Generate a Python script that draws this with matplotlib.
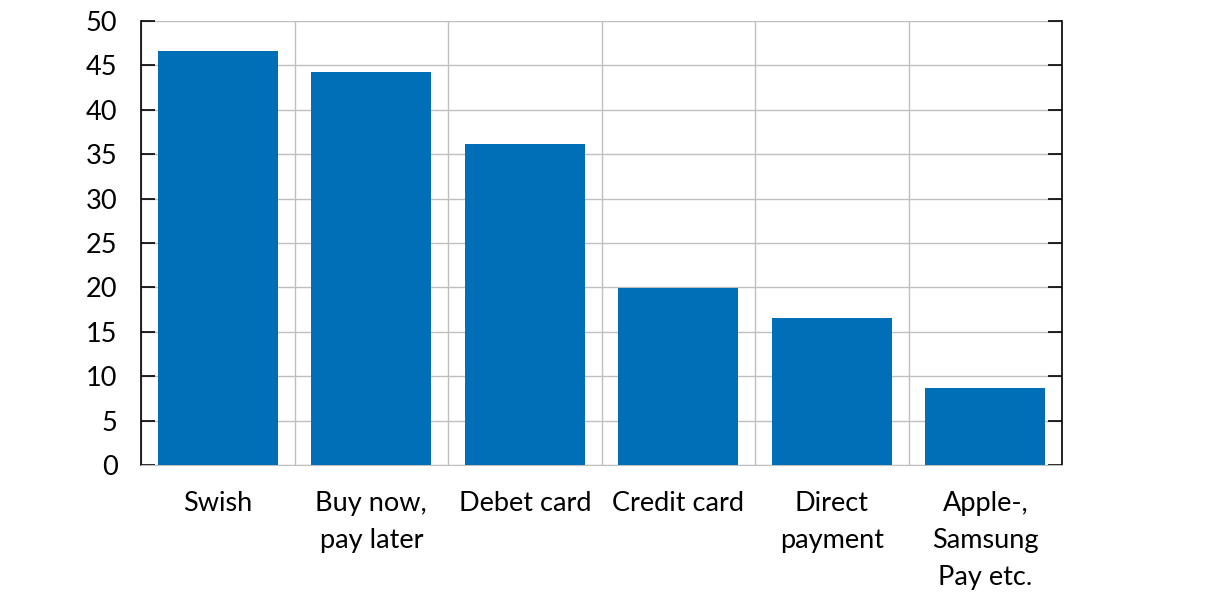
import matplotlib.pyplot as plt
import numpy as np

# data
categories = ["Swish", "Buy now,\npay later", "Debet card", "Credit card",
              "Direct\npayment", "Apple-,\nSamsung\nPay etc."]
values = [46.6, 44.3, 36.1, 19.9, 16.5, 8.7]
yticks = list(range(0, 55, 5))

plt.rcParams['font.family'] = ['Lato', 'DejaVu Sans']

fig = plt.figure(figsize=(12.22, 6.02), dpi=100)
ax = fig.add_axes([0.1154, 0.2276, 0.7537, 0.7374])

x = np.arange(len(categories))
ax.bar(x, values, width=0.78, color="#006FB8", zorder=3)

ax.set_xlim(-0.5, len(categories) - 0.5)
ax.set_ylim(0, 50)
ax.set_yticks(yticks)
ax.set_xticks(x)
ax.set_xticklabels(categories, fontsize=19.5, linespacing=1.6)
ax.tick_params(axis="x", length=0, pad=19)
ax.tick_params(axis="y", labelsize=19.5, direction="in", length=10,
               right=True, width=1.2, pad=17)

# category boundary grid lines
ax.set_xticks(np.arange(len(categories) + 1) - 0.5, minor=True)
ax.tick_params(axis="x", which="minor", length=0)
ax.grid(True, which="minor", axis="x", color="#BFBFBF", lw=1, zorder=0)
ax.grid(True, which="major", axis="y", color="#BFBFBF", lw=1, zorder=0)

ax.spines["top"].set_visible(False)
ax.spines["bottom"].set_color("#BFBFBF")
ax.spines["left"].set_linewidth(1.2)
ax.spines["right"].set_linewidth(1.2)

fig.savefig("out.png", dpi=100)
